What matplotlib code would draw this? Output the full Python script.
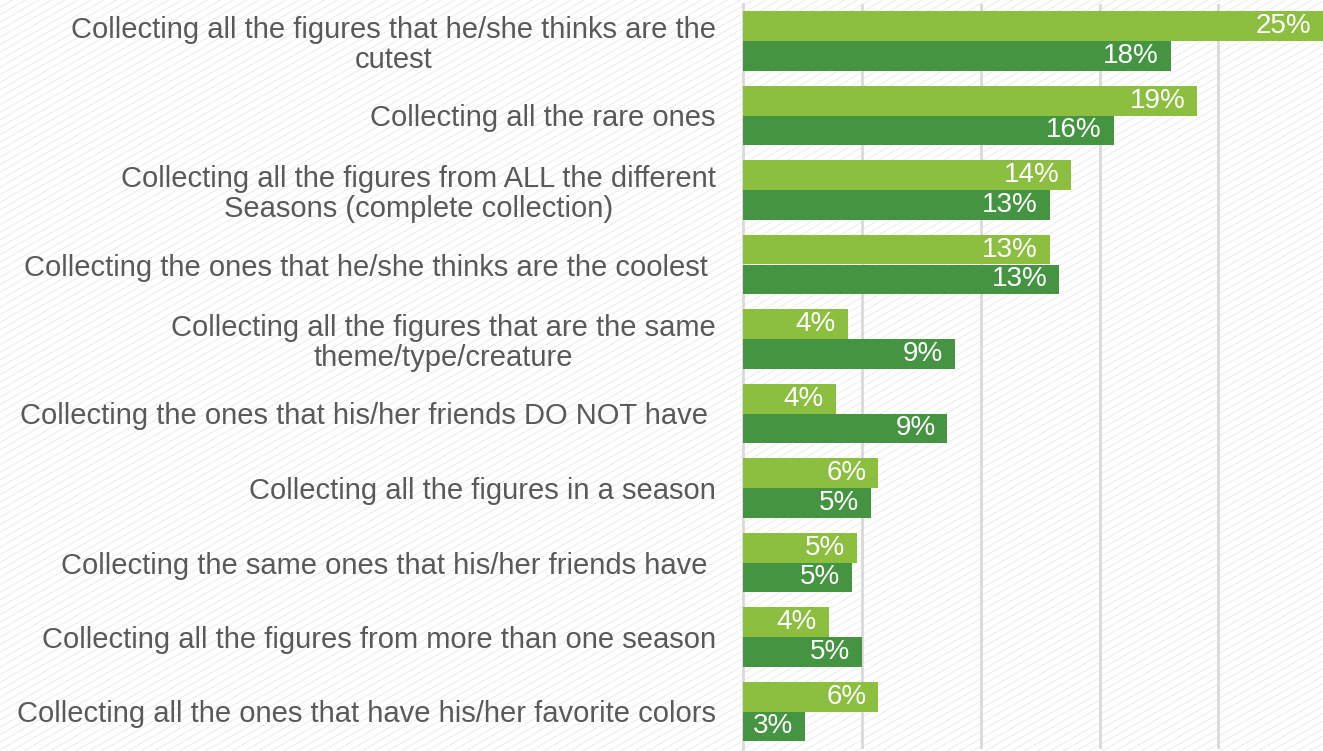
import numpy as np
import matplotlib
matplotlib.use("Agg")
import matplotlib.pyplot as plt
from matplotlib.collections import LineCollection

categories = [
    "Collecting all the figures that he/she thinks are the\ncutest",
    "Collecting all the rare ones",
    "Collecting all the figures from ALL the different\nSeasons (complete collection)",
    "Collecting the ones that he/she thinks are the coolest ",
    "Collecting all the figures that are the same\ntheme/type/creature",
    "Collecting the ones that his/her friends DO NOT have ",
    "Collecting all the figures in a season",
    "Collecting the same ones that his/her friends have ",
    "Collecting all the figures from more than one season",
    "Collecting all the ones that have his/her favorite colors",
]
series_light = [25.0, 19.1, 13.8, 12.9, 4.4, 3.9, 5.7, 4.8, 3.6, 5.7]
series_dark = [18.0, 15.6, 12.9, 13.3, 8.9, 8.6, 5.4, 4.6, 5.0, 2.6]

light_color = "#8cbe3f"
dark_color = "#459441"
text_color = "#595959"
grid_color = "#d9d9d9"
fonts = ["Liberation Sans", "DejaVu Sans"]

W, H = 1323, 751
fig = plt.figure(figsize=(W / 100, H / 100), dpi=100)
fig.patch.set_facecolor("white")

# faint diagonal texture behind everything
bg = fig.add_axes([0, 0, 1, 1], zorder=0)
bg.set_xlim(0, W)
bg.set_ylim(0, H)
bg.axis("off")
slope = np.tan(np.radians(30))
segs = []
for c in np.arange(-W * slope, H + 10, 7.5):
    segs.append([(0, c), (W, c + W * slope)])
bg.add_collection(LineCollection(segs, colors="#ededed", linewidths=0.8))

x_max = 24.4
ax = fig.add_axes([743 / W, 2.25 / H, 580 / W, 745 / H], zorder=1)
ax.set_facecolor("none")
n = len(categories)
y = np.arange(n)
h = 0.4
ax.barh(y - h / 2, series_light, height=h, color=light_color, zorder=3)
ax.barh(y + h / 2, series_dark, height=h, color=dark_color, zorder=3)

ax.set_xlim(0, x_max)
ax.set_ylim(n - 0.5, -0.5)
ax.set_xticks([5, 10, 15, 20])
ax.xaxis.grid(True, color=grid_color, linewidth=2, zorder=1)
ax.tick_params(axis="x", length=0, labelbottom=False)
ax.tick_params(axis="y", length=0, pad=19.5)
for s in ["top", "right", "bottom"]:
    ax.spines[s].set_visible(False)
ax.spines["left"].set_color(grid_color)
ax.spines["left"].set_linewidth(2)

ax.set_yticks(y)
ax.set_yticklabels(categories, fontsize=21, color=text_color, family=fonts)
for lab in ax.get_yticklabels():
    lab.set_multialignment("center")
    lab.set_linespacing(1.1)

def add_labels(vals, offset):
    for yi, v in zip(y, vals):
        xpos = min(v, x_max) - 0.5
        ax.text(xpos, yi + offset, f"{v:.0f}%", ha="right", va="center",
                color="white", fontsize=20, zorder=4, family=fonts)

add_labels(series_light, -h / 2)
add_labels(series_dark, h / 2)

fig.savefig("out.png", dpi=100)
